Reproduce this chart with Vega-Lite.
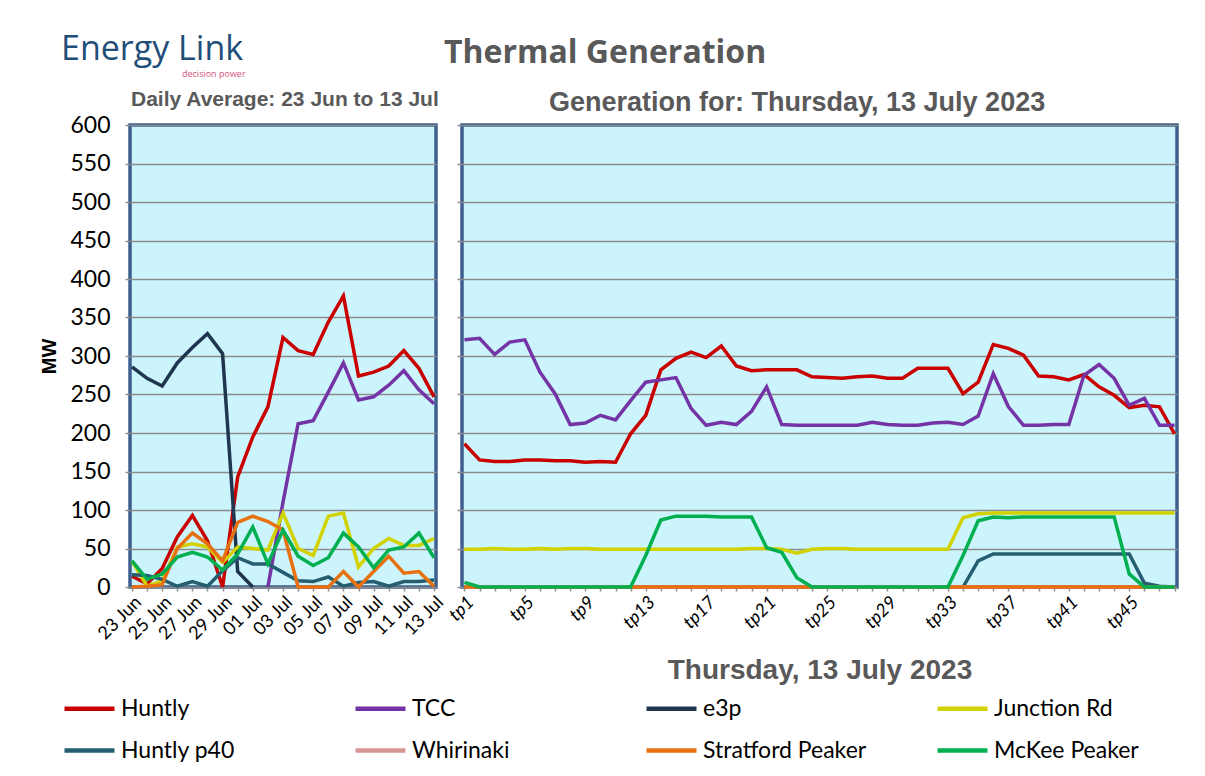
{
"$schema": "https://vega.github.io/schema/vega-lite/v6.json",
"background": "white",
"padding": {"left": 38, "top": 31, "right": 20, "bottom": 5},
"title": {"text": "decision power", "anchor": "start", "frame": "group", "font": "Open Sans", "fontSize": 9, "fontWeight": "normal", "color": "#D6547A", "dx": 52, "dy": 48, "offset": 0},
"config": {
  "view": {"fill": "#CCF4FC", "stroke": "#3E5F8E", "strokeWidth": 3.5},
  "axis": {"gridColor": "#8C8C8C", "gridWidth": 1.5, "tickColor": "#8C8C8C", "tickWidth": 1.5, "domain": false, "labelColor": "black"},
  "legend": {"orient": "none", "legendX": -68, "legendY": 556, "direction": "horizontal", "title": null, "columns": 4, "symbolType": "stroke", "symbolSize": 2500, "symbolStrokeWidth": 4.5, "labelFont": "Lato", "labelFontSize": 23, "labelLimit": 400, "labelColor": "black", "gridAlign": "all", "columnPadding": 61, "rowPadding": 2, "labelOffset": 4}
},
"datasets": {
"daily": [
{"plant":"Huntly","day":"23 Jun","mw":14},{"plant":"Huntly","day":"24 Jun","mw":4},{"plant":"Huntly","day":"25 Jun","mw":24},{"plant":"Huntly","day":"26 Jun","mw":65},{"plant":"Huntly","day":"27 Jun","mw":93},{"plant":"Huntly","day":"28 Jun","mw":60},{"plant":"Huntly","day":"29 Jun","mw":0},{"plant":"Huntly","day":"30 Jun","mw":143},{"plant":"Huntly","day":"01 Jul","mw":195},{"plant":"Huntly","day":"02 Jul","mw":234},{"plant":"Huntly","day":"03 Jul","mw":324},{"plant":"Huntly","day":"04 Jul","mw":307},{"plant":"Huntly","day":"05 Jul","mw":302},{"plant":"Huntly","day":"06 Jul","mw":344},{"plant":"Huntly","day":"07 Jul","mw":378},{"plant":"Huntly","day":"08 Jul","mw":274},{"plant":"Huntly","day":"09 Jul","mw":279},{"plant":"Huntly","day":"10 Jul","mw":287},{"plant":"Huntly","day":"11 Jul","mw":307},{"plant":"Huntly","day":"12 Jul","mw":284},{"plant":"Huntly","day":"13 Jul","mw":247},
{"plant":"TCC","day":"02 Jul","mw":0},{"plant":"TCC","day":"03 Jul","mw":110},{"plant":"TCC","day":"04 Jul","mw":212},{"plant":"TCC","day":"05 Jul","mw":216},{"plant":"TCC","day":"06 Jul","mw":253},{"plant":"TCC","day":"07 Jul","mw":291},{"plant":"TCC","day":"08 Jul","mw":243},{"plant":"TCC","day":"09 Jul","mw":247},{"plant":"TCC","day":"10 Jul","mw":262},{"plant":"TCC","day":"11 Jul","mw":281},{"plant":"TCC","day":"12 Jul","mw":256},{"plant":"TCC","day":"13 Jul","mw":238},
{"plant":"e3p","day":"23 Jun","mw":286},{"plant":"e3p","day":"24 Jun","mw":271},{"plant":"e3p","day":"25 Jun","mw":261},{"plant":"e3p","day":"26 Jun","mw":291},{"plant":"e3p","day":"27 Jun","mw":311},{"plant":"e3p","day":"28 Jun","mw":329},{"plant":"e3p","day":"29 Jun","mw":303},{"plant":"e3p","day":"30 Jun","mw":20},{"plant":"e3p","day":"01 Jul","mw":0},
{"plant":"Junction Rd","day":"23 Jun","mw":34},{"plant":"Junction Rd","day":"24 Jun","mw":1},{"plant":"Junction Rd","day":"25 Jun","mw":8},{"plant":"Junction Rd","day":"26 Jun","mw":52},{"plant":"Junction Rd","day":"27 Jun","mw":56},{"plant":"Junction Rd","day":"28 Jun","mw":52},{"plant":"Junction Rd","day":"29 Jun","mw":32},{"plant":"Junction Rd","day":"30 Jun","mw":52},{"plant":"Junction Rd","day":"01 Jul","mw":50},{"plant":"Junction Rd","day":"02 Jul","mw":48},{"plant":"Junction Rd","day":"03 Jul","mw":96},{"plant":"Junction Rd","day":"04 Jul","mw":50},{"plant":"Junction Rd","day":"05 Jul","mw":41},{"plant":"Junction Rd","day":"06 Jul","mw":92},{"plant":"Junction Rd","day":"07 Jul","mw":96},{"plant":"Junction Rd","day":"08 Jul","mw":26},{"plant":"Junction Rd","day":"09 Jul","mw":50},{"plant":"Junction Rd","day":"10 Jul","mw":63},{"plant":"Junction Rd","day":"11 Jul","mw":54},{"plant":"Junction Rd","day":"12 Jul","mw":54},{"plant":"Junction Rd","day":"13 Jul","mw":63},
{"plant":"Huntly p40","day":"23 Jun","mw":16},{"plant":"Huntly p40","day":"24 Jun","mw":15},{"plant":"Huntly p40","day":"25 Jun","mw":10},{"plant":"Huntly p40","day":"26 Jun","mw":1},{"plant":"Huntly p40","day":"27 Jun","mw":7},{"plant":"Huntly p40","day":"28 Jun","mw":1},{"plant":"Huntly p40","day":"29 Jun","mw":21},{"plant":"Huntly p40","day":"30 Jun","mw":38},{"plant":"Huntly p40","day":"01 Jul","mw":30},{"plant":"Huntly p40","day":"02 Jul","mw":30},{"plant":"Huntly p40","day":"03 Jul","mw":19},{"plant":"Huntly p40","day":"04 Jul","mw":8},{"plant":"Huntly p40","day":"05 Jul","mw":7},{"plant":"Huntly p40","day":"06 Jul","mw":13},{"plant":"Huntly p40","day":"07 Jul","mw":1},{"plant":"Huntly p40","day":"08 Jul","mw":6},{"plant":"Huntly p40","day":"09 Jul","mw":7},{"plant":"Huntly p40","day":"10 Jul","mw":1},{"plant":"Huntly p40","day":"11 Jul","mw":7},{"plant":"Huntly p40","day":"12 Jul","mw":7},{"plant":"Huntly p40","day":"13 Jul","mw":9},
{"plant":"Stratford Peaker","day":"23 Jun","mw":0},{"plant":"Stratford Peaker","day":"24 Jun","mw":1},{"plant":"Stratford Peaker","day":"25 Jun","mw":3},{"plant":"Stratford Peaker","day":"26 Jun","mw":50},{"plant":"Stratford Peaker","day":"27 Jun","mw":70},{"plant":"Stratford Peaker","day":"28 Jun","mw":56},{"plant":"Stratford Peaker","day":"29 Jun","mw":34},{"plant":"Stratford Peaker","day":"30 Jun","mw":84},{"plant":"Stratford Peaker","day":"01 Jul","mw":92},{"plant":"Stratford Peaker","day":"02 Jul","mw":85},{"plant":"Stratford Peaker","day":"03 Jul","mw":74},{"plant":"Stratford Peaker","day":"04 Jul","mw":0},{"plant":"Stratford Peaker","day":"05 Jul","mw":0},{"plant":"Stratford Peaker","day":"06 Jul","mw":0},{"plant":"Stratford Peaker","day":"07 Jul","mw":20},{"plant":"Stratford Peaker","day":"08 Jul","mw":0},{"plant":"Stratford Peaker","day":"09 Jul","mw":20},{"plant":"Stratford Peaker","day":"10 Jul","mw":40},{"plant":"Stratford Peaker","day":"11 Jul","mw":18},{"plant":"Stratford Peaker","day":"12 Jul","mw":20},{"plant":"Stratford Peaker","day":"13 Jul","mw":1},
{"plant":"McKee Peaker","day":"23 Jun","mw":34},{"plant":"McKee Peaker","day":"24 Jun","mw":10},{"plant":"McKee Peaker","day":"25 Jun","mw":17},{"plant":"McKee Peaker","day":"26 Jun","mw":39},{"plant":"McKee Peaker","day":"27 Jun","mw":45},{"plant":"McKee Peaker","day":"28 Jun","mw":39},{"plant":"McKee Peaker","day":"29 Jun","mw":22},{"plant":"McKee Peaker","day":"30 Jun","mw":43},{"plant":"McKee Peaker","day":"01 Jul","mw":78},{"plant":"McKee Peaker","day":"02 Jul","mw":30},{"plant":"McKee Peaker","day":"03 Jul","mw":74},{"plant":"McKee Peaker","day":"04 Jul","mw":40},{"plant":"McKee Peaker","day":"05 Jul","mw":28},{"plant":"McKee Peaker","day":"06 Jul","mw":38},{"plant":"McKee Peaker","day":"07 Jul","mw":70},{"plant":"McKee Peaker","day":"08 Jul","mw":52},{"plant":"McKee Peaker","day":"09 Jul","mw":25},{"plant":"McKee Peaker","day":"10 Jul","mw":48},{"plant":"McKee Peaker","day":"11 Jul","mw":52},{"plant":"McKee Peaker","day":"12 Jul","mw":70},{"plant":"McKee Peaker","day":"13 Jul","mw":38}
],
"tp": [
{"plant":"Huntly","tp":"tp1","mw":186},{"plant":"Huntly","tp":"tp2","mw":165},{"plant":"Huntly","tp":"tp3","mw":163},{"plant":"Huntly","tp":"tp4","mw":163},{"plant":"Huntly","tp":"tp5","mw":165},{"plant":"Huntly","tp":"tp6","mw":165},{"plant":"Huntly","tp":"tp7","mw":164},{"plant":"Huntly","tp":"tp8","mw":164},{"plant":"Huntly","tp":"tp9","mw":162},{"plant":"Huntly","tp":"tp10","mw":163},{"plant":"Huntly","tp":"tp11","mw":162},{"plant":"Huntly","tp":"tp12","mw":199},{"plant":"Huntly","tp":"tp13","mw":223},{"plant":"Huntly","tp":"tp14","mw":282},{"plant":"Huntly","tp":"tp15","mw":297},{"plant":"Huntly","tp":"tp16","mw":305},{"plant":"Huntly","tp":"tp17","mw":298},{"plant":"Huntly","tp":"tp18","mw":313},{"plant":"Huntly","tp":"tp19","mw":287},{"plant":"Huntly","tp":"tp20","mw":281},{"plant":"Huntly","tp":"tp21","mw":282},{"plant":"Huntly","tp":"tp22","mw":282},{"plant":"Huntly","tp":"tp23","mw":282},{"plant":"Huntly","tp":"tp24","mw":273},{"plant":"Huntly","tp":"tp25","mw":272},{"plant":"Huntly","tp":"tp26","mw":271},{"plant":"Huntly","tp":"tp27","mw":273},{"plant":"Huntly","tp":"tp28","mw":274},{"plant":"Huntly","tp":"tp29","mw":271},{"plant":"Huntly","tp":"tp30","mw":271},{"plant":"Huntly","tp":"tp31","mw":284},{"plant":"Huntly","tp":"tp32","mw":284},{"plant":"Huntly","tp":"tp33","mw":284},{"plant":"Huntly","tp":"tp34","mw":251},{"plant":"Huntly","tp":"tp35","mw":266},{"plant":"Huntly","tp":"tp36","mw":315},{"plant":"Huntly","tp":"tp37","mw":310},{"plant":"Huntly","tp":"tp38","mw":301},{"plant":"Huntly","tp":"tp39","mw":274},{"plant":"Huntly","tp":"tp40","mw":273},{"plant":"Huntly","tp":"tp41","mw":269},{"plant":"Huntly","tp":"tp42","mw":276},{"plant":"Huntly","tp":"tp43","mw":260},{"plant":"Huntly","tp":"tp44","mw":249},{"plant":"Huntly","tp":"tp45","mw":233},{"plant":"Huntly","tp":"tp46","mw":236},{"plant":"Huntly","tp":"tp47","mw":234},{"plant":"Huntly","tp":"tp48","mw":199},
{"plant":"TCC","tp":"tp1","mw":321},{"plant":"TCC","tp":"tp2","mw":323},{"plant":"TCC","tp":"tp3","mw":302},{"plant":"TCC","tp":"tp4","mw":318},{"plant":"TCC","tp":"tp5","mw":321},{"plant":"TCC","tp":"tp6","mw":279},{"plant":"TCC","tp":"tp7","mw":251},{"plant":"TCC","tp":"tp8","mw":211},{"plant":"TCC","tp":"tp9","mw":213},{"plant":"TCC","tp":"tp10","mw":223},{"plant":"TCC","tp":"tp11","mw":217},{"plant":"TCC","tp":"tp12","mw":242},{"plant":"TCC","tp":"tp13","mw":266},{"plant":"TCC","tp":"tp14","mw":269},{"plant":"TCC","tp":"tp15","mw":272},{"plant":"TCC","tp":"tp16","mw":232},{"plant":"TCC","tp":"tp17","mw":210},{"plant":"TCC","tp":"tp18","mw":214},{"plant":"TCC","tp":"tp19","mw":211},{"plant":"TCC","tp":"tp20","mw":228},{"plant":"TCC","tp":"tp21","mw":260},{"plant":"TCC","tp":"tp22","mw":211},{"plant":"TCC","tp":"tp23","mw":210},{"plant":"TCC","tp":"tp24","mw":210},{"plant":"TCC","tp":"tp25","mw":210},{"plant":"TCC","tp":"tp26","mw":210},{"plant":"TCC","tp":"tp27","mw":210},{"plant":"TCC","tp":"tp28","mw":214},{"plant":"TCC","tp":"tp29","mw":211},{"plant":"TCC","tp":"tp30","mw":210},{"plant":"TCC","tp":"tp31","mw":210},{"plant":"TCC","tp":"tp32","mw":213},{"plant":"TCC","tp":"tp33","mw":214},{"plant":"TCC","tp":"tp34","mw":211},{"plant":"TCC","tp":"tp35","mw":222},{"plant":"TCC","tp":"tp36","mw":277},{"plant":"TCC","tp":"tp37","mw":234},{"plant":"TCC","tp":"tp38","mw":210},{"plant":"TCC","tp":"tp39","mw":210},{"plant":"TCC","tp":"tp40","mw":211},{"plant":"TCC","tp":"tp41","mw":211},{"plant":"TCC","tp":"tp42","mw":275},{"plant":"TCC","tp":"tp43","mw":289},{"plant":"TCC","tp":"tp44","mw":271},{"plant":"TCC","tp":"tp45","mw":236},{"plant":"TCC","tp":"tp46","mw":245},{"plant":"TCC","tp":"tp47","mw":210},{"plant":"TCC","tp":"tp48","mw":210},
{"plant":"e3p","tp":"tp1","mw":0},{"plant":"e3p","tp":"tp2","mw":0},{"plant":"e3p","tp":"tp3","mw":0},{"plant":"e3p","tp":"tp4","mw":0},{"plant":"e3p","tp":"tp5","mw":0},{"plant":"e3p","tp":"tp6","mw":0},{"plant":"e3p","tp":"tp7","mw":0},{"plant":"e3p","tp":"tp8","mw":0},{"plant":"e3p","tp":"tp9","mw":0},{"plant":"e3p","tp":"tp10","mw":0},{"plant":"e3p","tp":"tp11","mw":0},{"plant":"e3p","tp":"tp12","mw":0},{"plant":"e3p","tp":"tp13","mw":0},{"plant":"e3p","tp":"tp14","mw":0},{"plant":"e3p","tp":"tp15","mw":0},{"plant":"e3p","tp":"tp16","mw":0},{"plant":"e3p","tp":"tp17","mw":0},{"plant":"e3p","tp":"tp18","mw":0},{"plant":"e3p","tp":"tp19","mw":0},{"plant":"e3p","tp":"tp20","mw":0},{"plant":"e3p","tp":"tp21","mw":0},{"plant":"e3p","tp":"tp22","mw":0},{"plant":"e3p","tp":"tp23","mw":0},{"plant":"e3p","tp":"tp24","mw":0},{"plant":"e3p","tp":"tp25","mw":0},{"plant":"e3p","tp":"tp26","mw":0},{"plant":"e3p","tp":"tp27","mw":0},{"plant":"e3p","tp":"tp28","mw":0},{"plant":"e3p","tp":"tp29","mw":0},{"plant":"e3p","tp":"tp30","mw":0},{"plant":"e3p","tp":"tp31","mw":0},{"plant":"e3p","tp":"tp32","mw":0},{"plant":"e3p","tp":"tp33","mw":0},{"plant":"e3p","tp":"tp34","mw":0},{"plant":"e3p","tp":"tp35","mw":0},{"plant":"e3p","tp":"tp36","mw":0},{"plant":"e3p","tp":"tp37","mw":0},{"plant":"e3p","tp":"tp38","mw":0},{"plant":"e3p","tp":"tp39","mw":0},{"plant":"e3p","tp":"tp40","mw":0},{"plant":"e3p","tp":"tp41","mw":0},{"plant":"e3p","tp":"tp42","mw":0},{"plant":"e3p","tp":"tp43","mw":0},{"plant":"e3p","tp":"tp44","mw":0},{"plant":"e3p","tp":"tp45","mw":0},{"plant":"e3p","tp":"tp46","mw":0},{"plant":"e3p","tp":"tp47","mw":0},{"plant":"e3p","tp":"tp48","mw":0},
{"plant":"Junction Rd","tp":"tp1","mw":49},{"plant":"Junction Rd","tp":"tp2","mw":49},{"plant":"Junction Rd","tp":"tp3","mw":50},{"plant":"Junction Rd","tp":"tp4","mw":49},{"plant":"Junction Rd","tp":"tp5","mw":49},{"plant":"Junction Rd","tp":"tp6","mw":50},{"plant":"Junction Rd","tp":"tp7","mw":49},{"plant":"Junction Rd","tp":"tp8","mw":50},{"plant":"Junction Rd","tp":"tp9","mw":50},{"plant":"Junction Rd","tp":"tp10","mw":49},{"plant":"Junction Rd","tp":"tp11","mw":49},{"plant":"Junction Rd","tp":"tp12","mw":49},{"plant":"Junction Rd","tp":"tp13","mw":49},{"plant":"Junction Rd","tp":"tp14","mw":49},{"plant":"Junction Rd","tp":"tp15","mw":49},{"plant":"Junction Rd","tp":"tp16","mw":49},{"plant":"Junction Rd","tp":"tp17","mw":49},{"plant":"Junction Rd","tp":"tp18","mw":49},{"plant":"Junction Rd","tp":"tp19","mw":49},{"plant":"Junction Rd","tp":"tp20","mw":50},{"plant":"Junction Rd","tp":"tp21","mw":50},{"plant":"Junction Rd","tp":"tp22","mw":49},{"plant":"Junction Rd","tp":"tp23","mw":44},{"plant":"Junction Rd","tp":"tp24","mw":49},{"plant":"Junction Rd","tp":"tp25","mw":50},{"plant":"Junction Rd","tp":"tp26","mw":50},{"plant":"Junction Rd","tp":"tp27","mw":49},{"plant":"Junction Rd","tp":"tp28","mw":49},{"plant":"Junction Rd","tp":"tp29","mw":49},{"plant":"Junction Rd","tp":"tp30","mw":49},{"plant":"Junction Rd","tp":"tp31","mw":49},{"plant":"Junction Rd","tp":"tp32","mw":49},{"plant":"Junction Rd","tp":"tp33","mw":49},{"plant":"Junction Rd","tp":"tp34","mw":90},{"plant":"Junction Rd","tp":"tp35","mw":95},{"plant":"Junction Rd","tp":"tp36","mw":96},{"plant":"Junction Rd","tp":"tp37","mw":96},{"plant":"Junction Rd","tp":"tp38","mw":96},{"plant":"Junction Rd","tp":"tp39","mw":96},{"plant":"Junction Rd","tp":"tp40","mw":96},{"plant":"Junction Rd","tp":"tp41","mw":96},{"plant":"Junction Rd","tp":"tp42","mw":96},{"plant":"Junction Rd","tp":"tp43","mw":96},{"plant":"Junction Rd","tp":"tp44","mw":96},{"plant":"Junction Rd","tp":"tp45","mw":96},{"plant":"Junction Rd","tp":"tp46","mw":96},{"plant":"Junction Rd","tp":"tp47","mw":96},{"plant":"Junction Rd","tp":"tp48","mw":96},
{"plant":"Huntly p40","tp":"tp1","mw":0},{"plant":"Huntly p40","tp":"tp2","mw":0},{"plant":"Huntly p40","tp":"tp3","mw":0},{"plant":"Huntly p40","tp":"tp4","mw":0},{"plant":"Huntly p40","tp":"tp5","mw":0},{"plant":"Huntly p40","tp":"tp6","mw":0},{"plant":"Huntly p40","tp":"tp7","mw":0},{"plant":"Huntly p40","tp":"tp8","mw":0},{"plant":"Huntly p40","tp":"tp9","mw":0},{"plant":"Huntly p40","tp":"tp10","mw":0},{"plant":"Huntly p40","tp":"tp11","mw":0},{"plant":"Huntly p40","tp":"tp12","mw":0},{"plant":"Huntly p40","tp":"tp13","mw":0},{"plant":"Huntly p40","tp":"tp14","mw":0},{"plant":"Huntly p40","tp":"tp15","mw":0},{"plant":"Huntly p40","tp":"tp16","mw":0},{"plant":"Huntly p40","tp":"tp17","mw":0},{"plant":"Huntly p40","tp":"tp18","mw":0},{"plant":"Huntly p40","tp":"tp19","mw":0},{"plant":"Huntly p40","tp":"tp20","mw":0},{"plant":"Huntly p40","tp":"tp21","mw":0},{"plant":"Huntly p40","tp":"tp22","mw":0},{"plant":"Huntly p40","tp":"tp23","mw":0},{"plant":"Huntly p40","tp":"tp24","mw":0},{"plant":"Huntly p40","tp":"tp25","mw":0},{"plant":"Huntly p40","tp":"tp26","mw":0},{"plant":"Huntly p40","tp":"tp27","mw":0},{"plant":"Huntly p40","tp":"tp28","mw":0},{"plant":"Huntly p40","tp":"tp29","mw":0},{"plant":"Huntly p40","tp":"tp30","mw":0},{"plant":"Huntly p40","tp":"tp31","mw":0},{"plant":"Huntly p40","tp":"tp32","mw":0},{"plant":"Huntly p40","tp":"tp33","mw":0},{"plant":"Huntly p40","tp":"tp34","mw":0},{"plant":"Huntly p40","tp":"tp35","mw":34},{"plant":"Huntly p40","tp":"tp36","mw":43},{"plant":"Huntly p40","tp":"tp37","mw":43},{"plant":"Huntly p40","tp":"tp38","mw":43},{"plant":"Huntly p40","tp":"tp39","mw":43},{"plant":"Huntly p40","tp":"tp40","mw":43},{"plant":"Huntly p40","tp":"tp41","mw":43},{"plant":"Huntly p40","tp":"tp42","mw":43},{"plant":"Huntly p40","tp":"tp43","mw":43},{"plant":"Huntly p40","tp":"tp44","mw":43},{"plant":"Huntly p40","tp":"tp45","mw":43},{"plant":"Huntly p40","tp":"tp46","mw":5},{"plant":"Huntly p40","tp":"tp47","mw":1},{"plant":"Huntly p40","tp":"tp48","mw":0},
{"plant":"Whirinaki","tp":"tp1","mw":0},{"plant":"Whirinaki","tp":"tp2","mw":0},{"plant":"Whirinaki","tp":"tp3","mw":0},{"plant":"Whirinaki","tp":"tp4","mw":0},{"plant":"Whirinaki","tp":"tp5","mw":0},{"plant":"Whirinaki","tp":"tp6","mw":0},{"plant":"Whirinaki","tp":"tp7","mw":0},{"plant":"Whirinaki","tp":"tp8","mw":0},{"plant":"Whirinaki","tp":"tp9","mw":0},{"plant":"Whirinaki","tp":"tp10","mw":0},{"plant":"Whirinaki","tp":"tp11","mw":0},{"plant":"Whirinaki","tp":"tp12","mw":0},{"plant":"Whirinaki","tp":"tp13","mw":0},{"plant":"Whirinaki","tp":"tp14","mw":0},{"plant":"Whirinaki","tp":"tp15","mw":0},{"plant":"Whirinaki","tp":"tp16","mw":0},{"plant":"Whirinaki","tp":"tp17","mw":0},{"plant":"Whirinaki","tp":"tp18","mw":0},{"plant":"Whirinaki","tp":"tp19","mw":0},{"plant":"Whirinaki","tp":"tp20","mw":0},{"plant":"Whirinaki","tp":"tp21","mw":0},{"plant":"Whirinaki","tp":"tp22","mw":0},{"plant":"Whirinaki","tp":"tp23","mw":0},{"plant":"Whirinaki","tp":"tp24","mw":0},{"plant":"Whirinaki","tp":"tp25","mw":0},{"plant":"Whirinaki","tp":"tp26","mw":0},{"plant":"Whirinaki","tp":"tp27","mw":0},{"plant":"Whirinaki","tp":"tp28","mw":0},{"plant":"Whirinaki","tp":"tp29","mw":0},{"plant":"Whirinaki","tp":"tp30","mw":0},{"plant":"Whirinaki","tp":"tp31","mw":0},{"plant":"Whirinaki","tp":"tp32","mw":0},{"plant":"Whirinaki","tp":"tp33","mw":0},{"plant":"Whirinaki","tp":"tp34","mw":0},{"plant":"Whirinaki","tp":"tp35","mw":0},{"plant":"Whirinaki","tp":"tp36","mw":0},{"plant":"Whirinaki","tp":"tp37","mw":0},{"plant":"Whirinaki","tp":"tp38","mw":0},{"plant":"Whirinaki","tp":"tp39","mw":0},{"plant":"Whirinaki","tp":"tp40","mw":0},{"plant":"Whirinaki","tp":"tp41","mw":0},{"plant":"Whirinaki","tp":"tp42","mw":0},{"plant":"Whirinaki","tp":"tp43","mw":0},{"plant":"Whirinaki","tp":"tp44","mw":0},{"plant":"Whirinaki","tp":"tp45","mw":0},{"plant":"Whirinaki","tp":"tp46","mw":0},{"plant":"Whirinaki","tp":"tp47","mw":0},{"plant":"Whirinaki","tp":"tp48","mw":0},
{"plant":"Stratford Peaker","tp":"tp1","mw":0},{"plant":"Stratford Peaker","tp":"tp2","mw":0},{"plant":"Stratford Peaker","tp":"tp3","mw":0},{"plant":"Stratford Peaker","tp":"tp4","mw":0},{"plant":"Stratford Peaker","tp":"tp5","mw":0},{"plant":"Stratford Peaker","tp":"tp6","mw":0},{"plant":"Stratford Peaker","tp":"tp7","mw":0},{"plant":"Stratford Peaker","tp":"tp8","mw":0},{"plant":"Stratford Peaker","tp":"tp9","mw":0},{"plant":"Stratford Peaker","tp":"tp10","mw":0},{"plant":"Stratford Peaker","tp":"tp11","mw":0},{"plant":"Stratford Peaker","tp":"tp12","mw":0},{"plant":"Stratford Peaker","tp":"tp13","mw":0},{"plant":"Stratford Peaker","tp":"tp14","mw":0},{"plant":"Stratford Peaker","tp":"tp15","mw":0},{"plant":"Stratford Peaker","tp":"tp16","mw":0},{"plant":"Stratford Peaker","tp":"tp17","mw":0},{"plant":"Stratford Peaker","tp":"tp18","mw":0},{"plant":"Stratford Peaker","tp":"tp19","mw":0},{"plant":"Stratford Peaker","tp":"tp20","mw":0},{"plant":"Stratford Peaker","tp":"tp21","mw":0},{"plant":"Stratford Peaker","tp":"tp22","mw":0},{"plant":"Stratford Peaker","tp":"tp23","mw":0},{"plant":"Stratford Peaker","tp":"tp24","mw":0},{"plant":"Stratford Peaker","tp":"tp25","mw":0},{"plant":"Stratford Peaker","tp":"tp26","mw":0},{"plant":"Stratford Peaker","tp":"tp27","mw":0},{"plant":"Stratford Peaker","tp":"tp28","mw":0},{"plant":"Stratford Peaker","tp":"tp29","mw":0},{"plant":"Stratford Peaker","tp":"tp30","mw":0},{"plant":"Stratford Peaker","tp":"tp31","mw":0},{"plant":"Stratford Peaker","tp":"tp32","mw":0},{"plant":"Stratford Peaker","tp":"tp33","mw":0},{"plant":"Stratford Peaker","tp":"tp34","mw":0},{"plant":"Stratford Peaker","tp":"tp35","mw":0},{"plant":"Stratford Peaker","tp":"tp36","mw":0},{"plant":"Stratford Peaker","tp":"tp37","mw":0},{"plant":"Stratford Peaker","tp":"tp38","mw":0},{"plant":"Stratford Peaker","tp":"tp39","mw":0},{"plant":"Stratford Peaker","tp":"tp40","mw":0},{"plant":"Stratford Peaker","tp":"tp41","mw":0},{"plant":"Stratford Peaker","tp":"tp42","mw":0},{"plant":"Stratford Peaker","tp":"tp43","mw":0},{"plant":"Stratford Peaker","tp":"tp44","mw":0},{"plant":"Stratford Peaker","tp":"tp45","mw":0},{"plant":"Stratford Peaker","tp":"tp46","mw":0},{"plant":"Stratford Peaker","tp":"tp47","mw":0},{"plant":"Stratford Peaker","tp":"tp48","mw":0},
{"plant":"McKee Peaker","tp":"tp1","mw":6},{"plant":"McKee Peaker","tp":"tp2","mw":0},{"plant":"McKee Peaker","tp":"tp3","mw":0},{"plant":"McKee Peaker","tp":"tp4","mw":0},{"plant":"McKee Peaker","tp":"tp5","mw":0},{"plant":"McKee Peaker","tp":"tp6","mw":0},{"plant":"McKee Peaker","tp":"tp7","mw":0},{"plant":"McKee Peaker","tp":"tp8","mw":0},{"plant":"McKee Peaker","tp":"tp9","mw":0},{"plant":"McKee Peaker","tp":"tp10","mw":0},{"plant":"McKee Peaker","tp":"tp11","mw":0},{"plant":"McKee Peaker","tp":"tp12","mw":0},{"plant":"McKee Peaker","tp":"tp13","mw":41},{"plant":"McKee Peaker","tp":"tp14","mw":87},{"plant":"McKee Peaker","tp":"tp15","mw":92},{"plant":"McKee Peaker","tp":"tp16","mw":92},{"plant":"McKee Peaker","tp":"tp17","mw":92},{"plant":"McKee Peaker","tp":"tp18","mw":91},{"plant":"McKee Peaker","tp":"tp19","mw":91},{"plant":"McKee Peaker","tp":"tp20","mw":91},{"plant":"McKee Peaker","tp":"tp21","mw":51},{"plant":"McKee Peaker","tp":"tp22","mw":45},{"plant":"McKee Peaker","tp":"tp23","mw":12},{"plant":"McKee Peaker","tp":"tp24","mw":0},{"plant":"McKee Peaker","tp":"tp25","mw":0},{"plant":"McKee Peaker","tp":"tp26","mw":0},{"plant":"McKee Peaker","tp":"tp27","mw":0},{"plant":"McKee Peaker","tp":"tp28","mw":0},{"plant":"McKee Peaker","tp":"tp29","mw":0},{"plant":"McKee Peaker","tp":"tp30","mw":0},{"plant":"McKee Peaker","tp":"tp31","mw":0},{"plant":"McKee Peaker","tp":"tp32","mw":0},{"plant":"McKee Peaker","tp":"tp33","mw":0},{"plant":"McKee Peaker","tp":"tp34","mw":41},{"plant":"McKee Peaker","tp":"tp35","mw":86},{"plant":"McKee Peaker","tp":"tp36","mw":91},{"plant":"McKee Peaker","tp":"tp37","mw":90},{"plant":"McKee Peaker","tp":"tp38","mw":91},{"plant":"McKee Peaker","tp":"tp39","mw":91},{"plant":"McKee Peaker","tp":"tp40","mw":91},{"plant":"McKee Peaker","tp":"tp41","mw":91},{"plant":"McKee Peaker","tp":"tp42","mw":91},{"plant":"McKee Peaker","tp":"tp43","mw":91},{"plant":"McKee Peaker","tp":"tp44","mw":91},{"plant":"McKee Peaker","tp":"tp45","mw":17},{"plant":"McKee Peaker","tp":"tp46","mw":0},{"plant":"McKee Peaker","tp":"tp47","mw":0},{"plant":"McKee Peaker","tp":"tp48","mw":0}
]
},
"bounds": "flush",
"spacing": 26,
"hconcat": [
{
  "width": 306, "height": 462,
  "data": {"name": "daily"},
  "title": {"text": "Energy Link", "subtitle": "\u200b\u00a0\u00a0\u00a0\u00a0\u00a0\u00a0\u00a0\u00a0\u00a0\u00a0\u00a0\u00a0Daily Average: 23 Jun to 13 Jul", "anchor": "start", "frame": "group", "dx": -69, "font": "Open Sans", "fontSize": 34, "fontWeight": "normal", "color": "#1F4E79", "subtitleFont": "Liberation Sans", "subtitleFontSize": 21, "subtitleFontWeight": "bold", "subtitleColor": "#595959", "subtitlePadding": 22, "offset": 4},
  "mark": {"type": "line", "strokeWidth": 3.5},
  "encoding": {
    "x": {"field": "day", "type": "ordinal", "sort": ["23 Jun","24 Jun","25 Jun","26 Jun","27 Jun","28 Jun","29 Jun","30 Jun","01 Jul","02 Jul","03 Jul","04 Jul","05 Jul","06 Jul","07 Jul","08 Jul","09 Jul","10 Jul","11 Jul","12 Jul","13 Jul"], "scale": {"type": "point", "padding": 0.13},
      "axis": {"title": null, "labelAngle": -45, "labelFont": "Lato", "labelFontSize": 18, "labelOverlap": false, "tickSize": 4, "grid": false, "labelPadding": 2,
        "labelExpr": "indexof(['23 Jun','25 Jun','27 Jun','29 Jun','01 Jul','03 Jul','05 Jul','07 Jul','09 Jul','11 Jul','13 Jul'], datum.label) >= 0 ? datum.label : ''"}},
    "y": {"field": "mw", "type": "quantitative", "scale": {"domain": [0, 600], "nice": false},
      "axis": {"title": "MW", "titleFont": "Liberation Sans", "titleFontSize": 20, "titleFontWeight": "bold", "titleColor": "black", "titlePadding": 10,
        "values": [0,50,100,150,200,250,300,350,400,450,500,550,600], "labelFont": "Lato", "labelFontSize": 23, "labelPadding": 15, "tickSize": 5}},
    "color": {"field": "plant", "type": "nominal",
      "scale": {"domain": ["Huntly","TCC","e3p","Junction Rd","Huntly p40","Whirinaki","Stratford Peaker","McKee Peaker"], "range": ["#C80000","#7434A6","#1F3550","#D2D200","#245E70","#D99594","#E8700F","#00B050"]}}
  }
},
{
  "width": 715, "height": 462,
  "data": {"name": "tp"},
  "title": {"text": "Thermal Generation", "subtitle": "\u200b\u00a0\u00a0\u00a0\u00a0\u00a0\u00a0\u00a0\u00a0\u00a0\u00a0\u00a0\u00a0\u00a0\u00a0Generation for: Thursday, 13 July 2023", "anchor": "start", "frame": "group", "dx": -18, "font": "Open Sans", "fontSize": 32, "fontWeight": "bold", "color": "#595959", "subtitleFont": "Liberation Sans", "subtitleFontSize": 27, "subtitleFontWeight": "bold", "subtitleColor": "#595959", "subtitlePadding": 20, "offset": 7},
  "mark": {"type": "line", "strokeWidth": 3.5},
  "encoding": {
    "x": {"field": "tp", "type": "ordinal", "sort": null, "scale": {"type": "point", "padding": 0.16},
      "axis": {"title": "Thursday, 13 July 2023", "titleFont": "Liberation Sans", "titleFontSize": 28, "titleFontWeight": "bold", "titleColor": "#595959", "titlePadding": 25,
        "labelAngle": -45, "labelFont": "Lato", "labelFontStyle": "italic", "labelFontSize": 18, "labelOverlap": false, "tickSize": 4, "grid": false, "labelPadding": 2,
        "labelExpr": "indexof(['tp1','tp5','tp9','tp13','tp17','tp21','tp25','tp29','tp33','tp37','tp41','tp45'], datum.label) >= 0 ? datum.label : ''"}},
    "y": {"field": "mw", "type": "quantitative", "scale": {"domain": [0, 600], "nice": false},
      "axis": {"title": null, "labels": false, "values": [0,50,100,150,200,250,300,350,400,450,500,550,600], "tickSize": 5}},
    "color": {"field": "plant", "type": "nominal",
      "scale": {"domain": ["Huntly","TCC","e3p","Junction Rd","Huntly p40","Whirinaki","Stratford Peaker","McKee Peaker"], "range": ["#C80000","#7434A6","#1F3550","#D2D200","#245E70","#D99594","#E8700F","#00B050"]}}
  }
}
]
}
